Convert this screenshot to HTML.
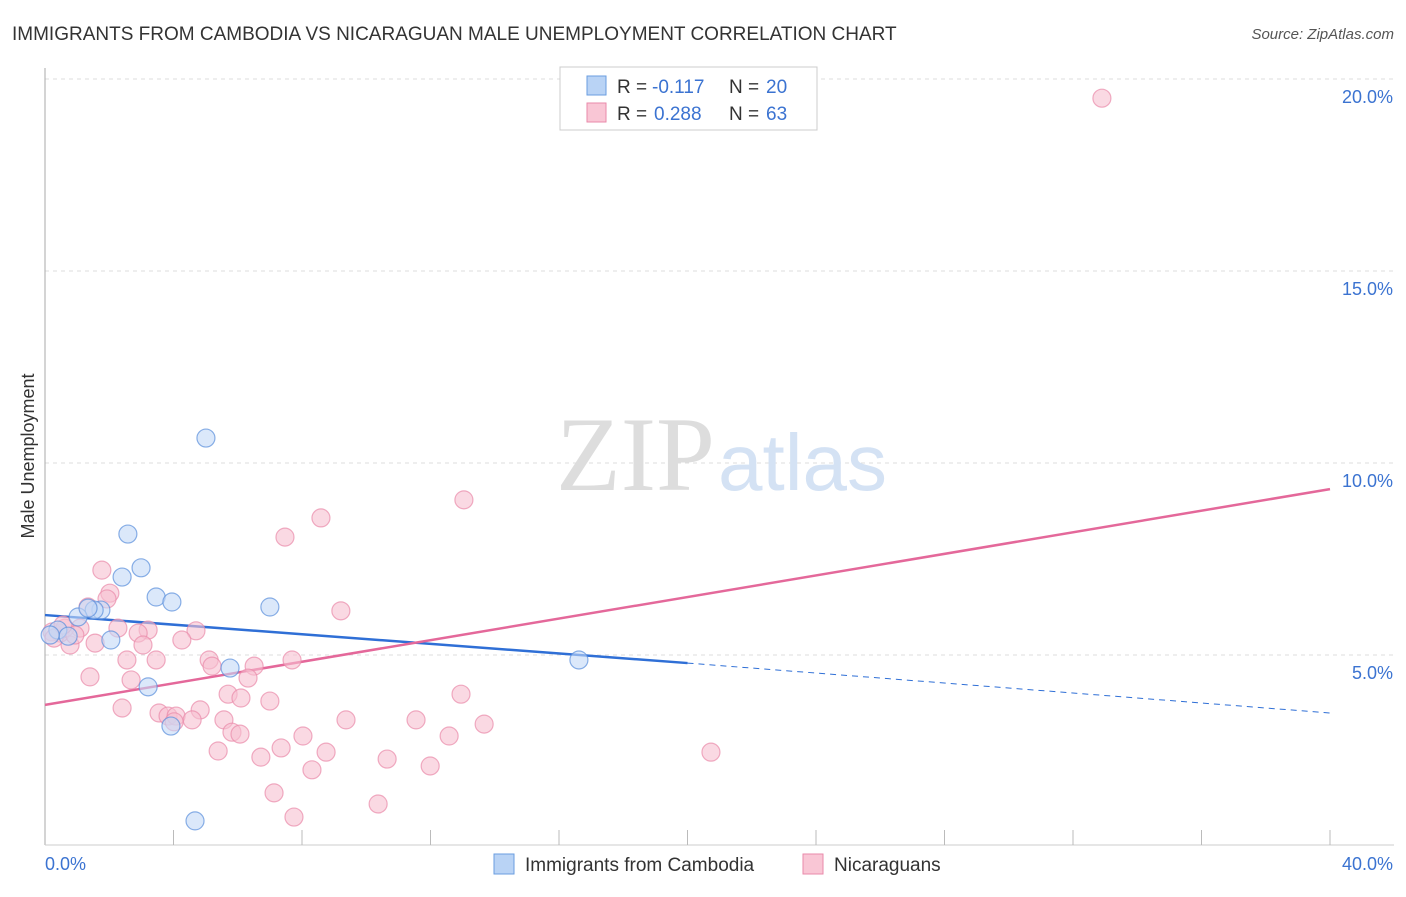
<!DOCTYPE html>
<html><head><meta charset="utf-8"><style>
body{margin:0;background:#fff;font-family:"Liberation Sans",sans-serif}
</style></head><body>
<svg width="1406" height="892" viewBox="0 0 1406 892" xmlns="http://www.w3.org/2000/svg">
<text x="12" y="40" font-size="19" fill="#333">IMMIGRANTS FROM CAMBODIA VS NICARAGUAN MALE UNEMPLOYMENT CORRELATION CHART</text>
<text x="1394" y="39" font-size="15" fill="#555" font-style="italic" text-anchor="end">Source: ZipAtlas.com</text>
<text x="34" y="456" font-size="18" fill="#333" text-anchor="middle" transform="rotate(-90 34 456)">Male Unemployment</text>
<g id="grid"></g>
<text x="715" y="490" font-size="106" fill="#ddd" text-anchor="end" font-family="Liberation Serif,serif">ZIP</text>
<text x="718" y="490" font-size="80" fill="#d4e2f4">atlas</text>
<g id="lines"></g>
<g id="pts"></g>
<g>
<rect x="560" y="67" width="257" height="63" fill="#fff" stroke="#ccc"/>
<rect x="587" y="76" width="19" height="19" fill="#b9d3f5" stroke="#6a9ee0"/>
<rect x="587" y="103" width="19" height="19" fill="#f9c6d5" stroke="#e98aaa"/>
<text x="617" y="93" font-size="19" fill="#333">R =</text>
<text x="652" y="93" font-size="19" fill="#3b73d1">-0.117</text>
<text x="729" y="93" font-size="19" fill="#333">N =</text>
<text x="766" y="93" font-size="19" fill="#3b73d1">20</text>
<text x="617" y="120" font-size="19" fill="#333">R =</text>
<text x="654" y="120" font-size="19" fill="#3b73d1">0.288</text>
<text x="729" y="120" font-size="19" fill="#333">N =</text>
<text x="766" y="120" font-size="19" fill="#3b73d1">63</text>
</g>
<g>
<rect x="494" y="854" width="20" height="20" fill="#b9d3f5" stroke="#6a9ee0"/>
<text x="525" y="871" font-size="19" fill="#333">Immigrants from Cambodia</text>
<rect x="803" y="854" width="20" height="20" fill="#f9c6d5" stroke="#e98aaa"/>
<text x="834" y="871" font-size="19" fill="#333">Nicaraguans</text>
</g>
</svg>
<script>
const yTicks=[5,10,15,20];
const yTickLabels=["5.0%","10.0%","15.0%","20.0%"];
const xTickLabels=["0.0%","40.0%"];
const blueX=[5.01,2.58,2.99,2.40,3.46,3.95,7.00,1.74,1.53,1.03,1.34,2.05,0.40,0.72,5.76,16.62,3.21,3.92,4.67,0.16];
const blueY=[10.65,8.15,7.27,7.03,6.51,6.38,6.25,6.17,6.17,5.99,6.22,5.39,5.65,5.49,4.66,4.87,4.17,3.15,0.68,5.52];
const pinkX=[32.9,13.04,8.59,7.47,1.77,2.02,1.93,9.21,1.34,1.09,2.27,3.21,2.90,4.70,4.26,1.56,3.05,0.78,2.55,3.46,5.11,5.20,7.69,6.51,6.32,1.40,2.68,12.95,5.70,6.10,7.00,2.40,3.55,3.83,4.08,4.83,4.58,5.57,9.37,11.55,13.67,4.02,5.82,6.07,8.03,12.58,5.39,7.35,8.75,20.73,6.72,10.65,11.99,8.31,7.13,10.37,7.75,0.47,0.22,0.62,0.93,0.28,0.56];
const pinkY=[19.5,9.04,8.57,8.07,7.21,6.61,6.46,6.15,6.25,5.70,5.70,5.65,5.57,5.63,5.39,5.31,5.26,5.26,4.87,4.87,4.87,4.71,4.87,4.71,4.40,4.43,4.35,3.98,3.98,3.88,3.80,3.62,3.49,3.41,3.41,3.57,3.31,3.31,3.31,3.31,3.20,3.26,2.99,2.94,2.89,2.89,2.50,2.58,2.47,2.47,2.34,2.29,2.11,2.01,1.41,1.12,0.78,5.57,5.60,5.70,5.52,5.44,5.78];
const blueTrend=[6.04,4.79,3.49];
const pinkTrend=[3.70,9.32];
const NS="http://www.w3.org/2000/svg";
const X=v=>45+v/40*1285, Y=v=>847-v*38.4;
function mk(t,a,p){const e=document.createElementNS(NS,t);for(const k in a)e.setAttribute(k,a[k]);document.getElementById(p).appendChild(e);return e;}
yTicks.forEach((t,i)=>{
 let l=mk('line',{x1:45,x2:1394,y1:Y(t),y2:Y(t),stroke:'#ddd','stroke-dasharray':'4,4'},'grid');
 
 
 let tx=mk('text',{x:1393,y:Y(t)+24,'font-size':18,fill:'#3b73d1','text-anchor':'end'},'grid');tx.textContent=yTickLabels[i];
 
 
});
let ax=mk('line',{x1:45,x2:45,y1:68,y2:845,stroke:'#aaa'},'grid');


let bx=mk('line',{x1:45,x2:1394,y1:845,y2:845,stroke:'#ccc'},'grid');


for(let i=1;i<=10;i++){let t=mk('line',{x1:X(i*4),x2:X(i*4),y1:830,y2:845,stroke:'#bbb'},'grid');
 
 }
[[0,'start',45],[40,'end',1393]].forEach((d,i)=>{let t=mk('text',{x:d[2],y:870,'font-size':18,fill:'#3b73d1','text-anchor':d[1]},'grid');t.textContent=xTickLabels[i];
 
 });
function dot(x,y,f,s,nm){let c=mk('circle',{cx:X(x),cy:Y(y),r:9,fill:f,'fill-opacity':0.6,stroke:s,'stroke-opacity':0.7,'stroke-width':1.2},'pts');
 
 }
pinkX.forEach((x,i)=>dot(x,pinkY[i],'#f7bfd0','#e98aaa','nicaraguan-point'));
blueX.forEach((x,i)=>dot(x,blueY[i],'#c3d9f6','#5a8fdc','cambodia-point'));
let b1=mk('line',{x1:X(0),y1:Y(blueTrend[0]),x2:X(20),y2:Y(blueTrend[1]),stroke:'#2f6fd6','stroke-width':2.5},'lines');


let b2=mk('line',{x1:X(20),y1:Y(blueTrend[1]),x2:X(40),y2:Y(blueTrend[2]),stroke:'#2f6fd6','stroke-width':1,'stroke-dasharray':'6,5'},'lines');


let p1=mk('line',{x1:X(0),y1:Y(pinkTrend[0]),x2:X(40),y2:Y(pinkTrend[1]),stroke:'#e4689a','stroke-width':2.5},'lines');


</script>
</body></html>
